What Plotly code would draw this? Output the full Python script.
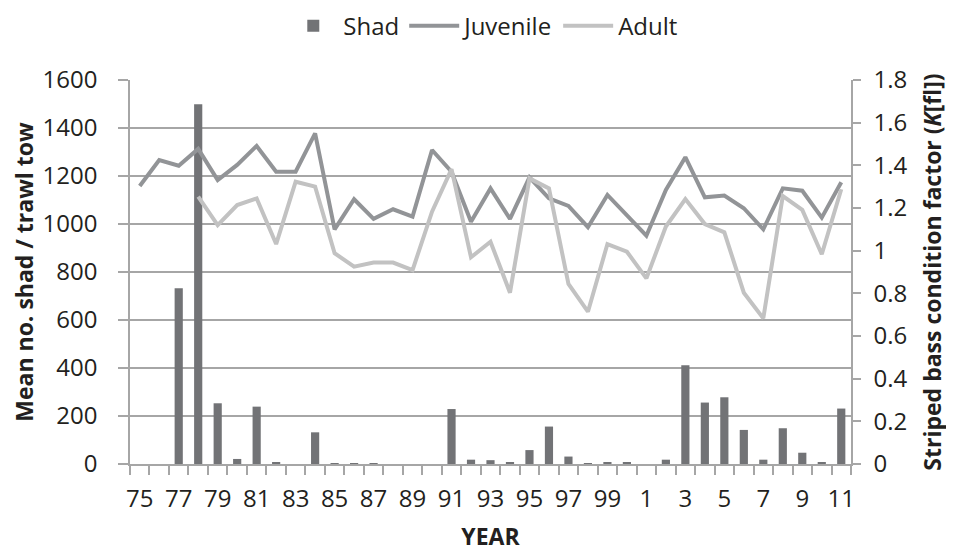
import plotly.graph_objects as go
from plotly.subplots import make_subplots

years = list(range(1975, 2012))
year_labels = ["75", "77", "79", "81", "83", "85", "87", "89", "91", "93", "95", "97", "99",
               "1", "3", "5", "7", "9", "11"]
label_years = list(range(1975, 2012, 2))

shad = [0, 0, 732, 1499, 253, 21, 239, 5, 0, 132, 4, 2, 2, 0, 0, 0, 229, 18, 16, 8, 58,
        156, 31, 2, 8, 8, 0, 18, 411, 256, 278, 142, 18, 149, 47, 5, 231]

juvenile = [1.303, 1.425, 1.398, 1.477, 1.331, 1.402, 1.491, 1.370, 1.370, 1.550, 1.100,
            1.241, 1.149, 1.194, 1.160, 1.472, 1.370, 1.136, 1.292, 1.149, 1.344, 1.245,
            1.210, 1.110, 1.261, 1.167, 1.070, 1.285, 1.438, 1.250, 1.258, 1.199, 1.100,
            1.292, 1.281, 1.155, 1.321]

adult = [None, None, None, 1.253, 1.120, 1.214, 1.245, 1.031, 1.323, 1.300, 0.988, 0.925,
         0.944, 0.944, 0.909, 1.183, 1.382, 0.969, 1.042, 0.803, 1.339, 1.292, 0.844,
         0.714, 1.031, 0.995, 0.870, 1.113, 1.242, 1.125, 1.086, 0.803, 0.683, 1.256,
         1.191, 0.983, 1.288]

FONT = "Open Sans"
TXT = "#231f20"
GRID = "#a6a6a6"

fig = make_subplots(specs=[[{"secondary_y": True}]])

fig.add_trace(go.Bar(x=years, y=shad, name="Shad", marker=dict(color="#727376", line=dict(width=0)),
                     width=0.42), secondary_y=False)
fig.add_trace(go.Scatter(x=years, y=juvenile, name="Juvenile", mode="lines",
                         line=dict(color="#929497", width=4)), secondary_y=True)
fig.add_trace(go.Scatter(x=years, y=adult, name="Adult", mode="lines",
                         line=dict(color="#c2c2c2", width=4)), secondary_y=True)

# page body has an 8px margin, so the figure is sized to fit the remaining window
fig.update_layout(
    width=946, height=544,
    margin=dict(l=122, r=103, t=72, b=88, autoexpand=False),
    paper_bgcolor="white", plot_bgcolor="white",
    font=dict(family=FONT, size=24, color=TXT),
    showlegend=True,
    legend=dict(orientation="h", x=0.49, xanchor="center", y=1.14, yanchor="middle",
                font=dict(size=24, color=TXT), itemwidth=50,
                traceorder="normal", bgcolor="rgba(0,0,0,0)"),
    bargap=0.58,
)

fig.update_xaxes(
    domain=[0, 1],
    range=[1974.5, 2011.5], tickmode="array", tickvals=label_years, ticktext=year_labels,
    ticks="", showgrid=False, showline=True, linecolor=GRID, linewidth=1.5,
    tickfont=dict(size=24, color=TXT), zeroline=False, ticklabelstandoff=12,
    minor=dict(ticks="outside", tick0=1974.5, dtick=1, ticklen=9, tickcolor=GRID,
               tickwidth=1.5, showgrid=False),
    title=dict(text="<b>YEAR</b>", font=dict(size=23, color=TXT), standoff=25),
)

fig.update_yaxes(
    range=[0, 1600], dtick=200, showgrid=True, gridcolor=GRID, gridwidth=1.5,
    showline=True, linecolor=GRID, linewidth=1.5, ticks="outside", ticklen=10,
    tickcolor=GRID, tickwidth=1.5, zeroline=False, tickfont=dict(size=24, color=TXT),
    ticklabelstandoff=16,
    title=dict(text="<b>Mean no. shad / trawl tow</b>", font=dict(size=23, color=TXT),
               standoff=10),
    secondary_y=False,
)

fig.update_yaxes(
    range=[0, 1.8], dtick=0.2, showgrid=False, showline=True, linecolor=GRID, linewidth=1.5,
    ticks="outside", ticklen=8, tickcolor=GRID, tickwidth=1.5, zeroline=False,
    tickfont=dict(size=24, color=TXT), ticklabelstandoff=8,
    title=dict(text="<b>Striped bass condition factor (<i>K</i>[fl])</b>",
               font=dict(size=23, color=TXT), standoff=18),
    secondary_y=True,
)

fig.write_html("out.html")
